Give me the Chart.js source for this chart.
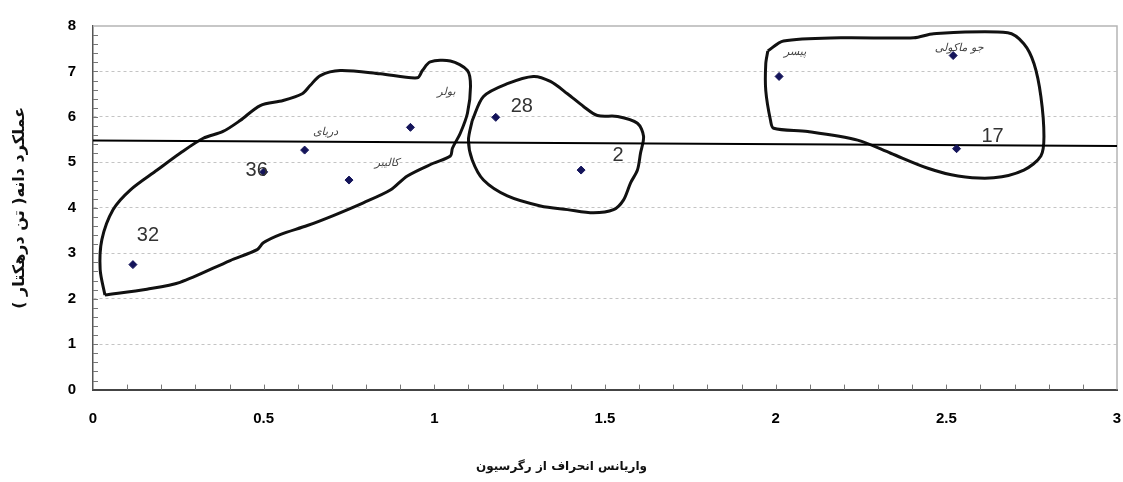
<!DOCTYPE html>
<html>
<head>
<meta charset="utf-8">
<script src="https://cdn.jsdelivr.net/npm/chart.js@4.4.0/dist/chart.umd.min.js"></script>
<style>
  html, body { margin: 0; padding: 0; background: #ffffff; }
  #wrap { width: 1123px; height: 482px; }
</style>
</head>
<body>
<div id="wrap"><canvas id="chart" width="1123" height="482" dir="rtl"></canvas></div>
<script>
// Varieties / lines and their values (variance of regression deviation vs grain yield)
const pointLabels = ['32', '36', 'دریای', 'کالیبر', 'بولر', '28', '2', 'پیسر', 'جو ماکولی', '17'];
const deviationVariance = [0.117, 0.50, 0.62, 0.75, 0.93, 1.18, 1.43, 2.01, 2.52, 2.53];
const grainYield = [2.75, 4.79, 5.27, 4.61, 5.77, 5.99, 4.83, 6.89, 7.35, 5.30];

// Mean yield line
const meanLineX = [0, 3];
const meanLineY = [5.48, 5.36];

// Hand-drawn group outlines (data units)
const groupAX = [0.035, 0.021, 0.026, 0.059, 0.109, 0.188, 0.255, 0.323, 0.381, 0.431, 0.490, 0.557, 0.613, 0.636, 0.666, 0.724, 0.842, 0.950, 0.965, 0.988, 1.047, 1.097, 1.106, 1.097, 1.076, 1.053, 1.047, 0.997, 0.921, 0.871, 0.792, 0.704, 0.628, 0.548, 0.499, 0.481, 0.402, 0.255, 0.158, 0.035];
const groupAY = [2.08, 2.64, 3.30, 3.96, 4.39, 4.83, 5.20, 5.53, 5.68, 5.92, 6.25, 6.36, 6.51, 6.69, 6.91, 7.02, 6.95, 6.86, 7.02, 7.21, 7.23, 7.02, 6.67, 6.08, 5.64, 5.31, 5.14, 4.98, 4.70, 4.39, 4.11, 3.83, 3.61, 3.41, 3.23, 3.08, 2.84, 2.36, 2.21, 2.08];

const groupBX = [1.111, 1.144, 1.214, 1.290, 1.340, 1.390, 1.437, 1.478, 1.537, 1.595, 1.613, 1.604, 1.595, 1.575, 1.554, 1.525, 1.466, 1.390, 1.311, 1.214, 1.144, 1.111, 1.100, 1.111];
const groupBY = [5.92, 6.45, 6.73, 6.89, 6.78, 6.51, 6.23, 6.03, 6.01, 5.86, 5.57, 5.20, 4.83, 4.55, 4.17, 3.96, 3.89, 3.96, 4.04, 4.26, 4.61, 5.05, 5.49, 5.92];

const groupCX = [1.977, 2.023, 2.191, 2.405, 2.463, 2.680, 2.727, 2.757, 2.777, 2.786, 2.777, 2.727, 2.639, 2.534, 2.446, 2.337, 2.240, 2.094, 1.994, 1.985, 1.971, 1.971, 1.977];
const groupCY = [7.45, 7.67, 7.74, 7.74, 7.83, 7.85, 7.61, 7.17, 6.45, 5.57, 5.14, 4.83, 4.66, 4.70, 4.87, 5.20, 5.49, 5.68, 5.75, 5.92, 6.58, 7.17, 7.45];

const xTickValues = [0, 0.5, 1, 1.5, 2, 2.5, 3];
const yTickValues = [0, 1, 2, 3, 4, 5, 6, 7, 8];

const xTitle = 'واریانس انحراف از رگرسیون';
const yTitle = 'عملکرد دانه( تن درهکتار )';

// Label offsets from each point, in pixels
const labelOffsets = [[15, -29], [-7, -1], [21, -18], [38, -17], [36, -35], [26, -11], [37, -15], [16, -24], [6, -7], [36, -12]];

const toPoints = (xs, ys) => xs.map((x, i) => ({ x: x, y: ys[i] }));

function outline(xs, ys) {
    return {
        type: 'line',
        data: toPoints(xs, ys),
        borderColor: '#111111',
        borderWidth: 3,
        pointRadius: 0,
        tension: 0.3,
        fill: false,
        order: 2
    };
}

/**
 * Frame and minor tick marks drawn inside the plot
 */
const framePlugin = {
    id: 'frame',
    beforeDatasetsDraw(chart) {
        const { ctx, chartArea: a, scales } = chart;
        ctx.save();
        ctx.strokeStyle = '#b5b5b5';
        ctx.lineWidth = 1.5;
        ctx.beginPath();
        ctx.moveTo(a.left, a.top);
        ctx.lineTo(a.right, a.top);
        ctx.lineTo(a.right, a.bottom);
        ctx.stroke();

        ctx.strokeStyle = '#777777';
        ctx.lineWidth = 1;
        ctx.beginPath();
        for (let v = 0.2; v < 8; v += 0.2) {
            const py = Math.round(scales.y.getPixelForValue(v)) + 0.5;
            ctx.moveTo(a.left, py);
            ctx.lineTo(a.left + 5, py);
        }
        for (let v = 0.1; v < 3; v += 0.1) {
            const px = Math.round(scales.x.getPixelForValue(v)) + 0.5;
            ctx.moveTo(px, a.bottom);
            ctx.lineTo(px, a.bottom - 5);
        }
        ctx.stroke();
        ctx.restore();
    }
};

/**
 * Text labels next to the variety markers
 */
const labelPlugin = {
    id: 'pointText',
    afterDatasetsDraw(chart) {
        const { ctx, scales } = chart;
        ctx.save();
        ctx.textAlign = 'center';
        ctx.textBaseline = 'middle';
        pointLabels.forEach((label, i) => {
            const px = scales.x.getPixelForValue(deviationVariance[i]) + labelOffsets[i][0];
            const py = scales.y.getPixelForValue(grainYield[i]) + labelOffsets[i][1];
            if (/^\d+$/.test(label)) {
                ctx.font = '20px "Liberation Sans", Arial, sans-serif';
                ctx.fillStyle = '#333333';
            } else {
                ctx.font = 'italic 11px "DejaVu Sans", sans-serif';
                ctx.fillStyle = '#444444';
            }
            ctx.fillText(label, px, py);
        });
        ctx.restore();
    }
};

const tickFont = { family: '"Liberation Sans", Arial, sans-serif', size: 15, weight: 'bold' };

new Chart(document.getElementById('chart'), {
    type: 'scatter',
    data: {
        datasets: [
            {
                type: 'scatter',
                data: toPoints(deviationVariance, grainYield),
                pointStyle: 'rectRot',
                pointRadius: 4,
                backgroundColor: '#14145a',
                borderColor: '#14145a',
                borderWidth: 1,
                order: 0
            },
            {
                type: 'line',
                data: toPoints(meanLineX, meanLineY),
                borderColor: '#000000',
                borderWidth: 2,
                pointRadius: 0,
                fill: false,
                order: 1
            },
            outline(groupAX, groupAY),
            outline(groupBX, groupBY),
            outline(groupCX, groupCY)
        ]
    },
    options: {
        responsive: false,
        animation: false,
        layout: { padding: { left: 0, right: 0, top: 22, bottom: 2 } },
        plugins: {
            legend: { display: false },
            tooltip: { enabled: false },
            title: {
                display: true,
                position: 'bottom',
                text: xTitle,
                color: '#111111',
                font: { family: '"DejaVu Sans", sans-serif', size: 12, weight: 'bold' },
                padding: { top: 10, bottom: 6 }
            }
        },
        scales: {
            x: {
                type: 'linear',
                min: 0,
                max: 3,
                afterBuildTicks: (scale) => { scale.ticks = xTickValues.map(v => ({ value: v })); },
                afterFit: (scale) => { scale.height = 60; scale.paddingRight = 6; },
                grid: { display: false },
                border: { display: true, color: '#444444', width: 2 },
                ticks: {
                    padding: 12,
                    color: '#000000',
                    font: tickFont,
                    maxRotation: 0,
                    callback: (v) => String(v)
                }
            },
            y: {
                type: 'linear',
                min: 0,
                max: 8,
                afterBuildTicks: (scale) => { scale.ticks = yTickValues.map(v => ({ value: v })); },
                afterFit: (scale) => { scale.width = 93; },
                grid: {
                    drawTicks: false,
                    color: (c) => (c.tick.value > 0 && c.tick.value < 8) ? '#c4c4c4' : 'rgba(0,0,0,0)',
                    lineWidth: 1
                },
                border: { display: true, color: '#555555', width: 1.5, dash: [3, 3] },
                ticks: {
                    padding: 17,
                    color: '#000000',
                    font: tickFont,
                    callback: (v) => String(v)
                },
                title: {
                    display: true,
                    text: yTitle,
                    color: '#111111',
                    font: { family: '"DejaVu Sans", sans-serif', size: 16, weight: 'bold' },
                    padding: { top: 10, bottom: 0 }
                }
            }
        }
    },
    plugins: [framePlugin, labelPlugin]
});
</script>
</body>
</html>
